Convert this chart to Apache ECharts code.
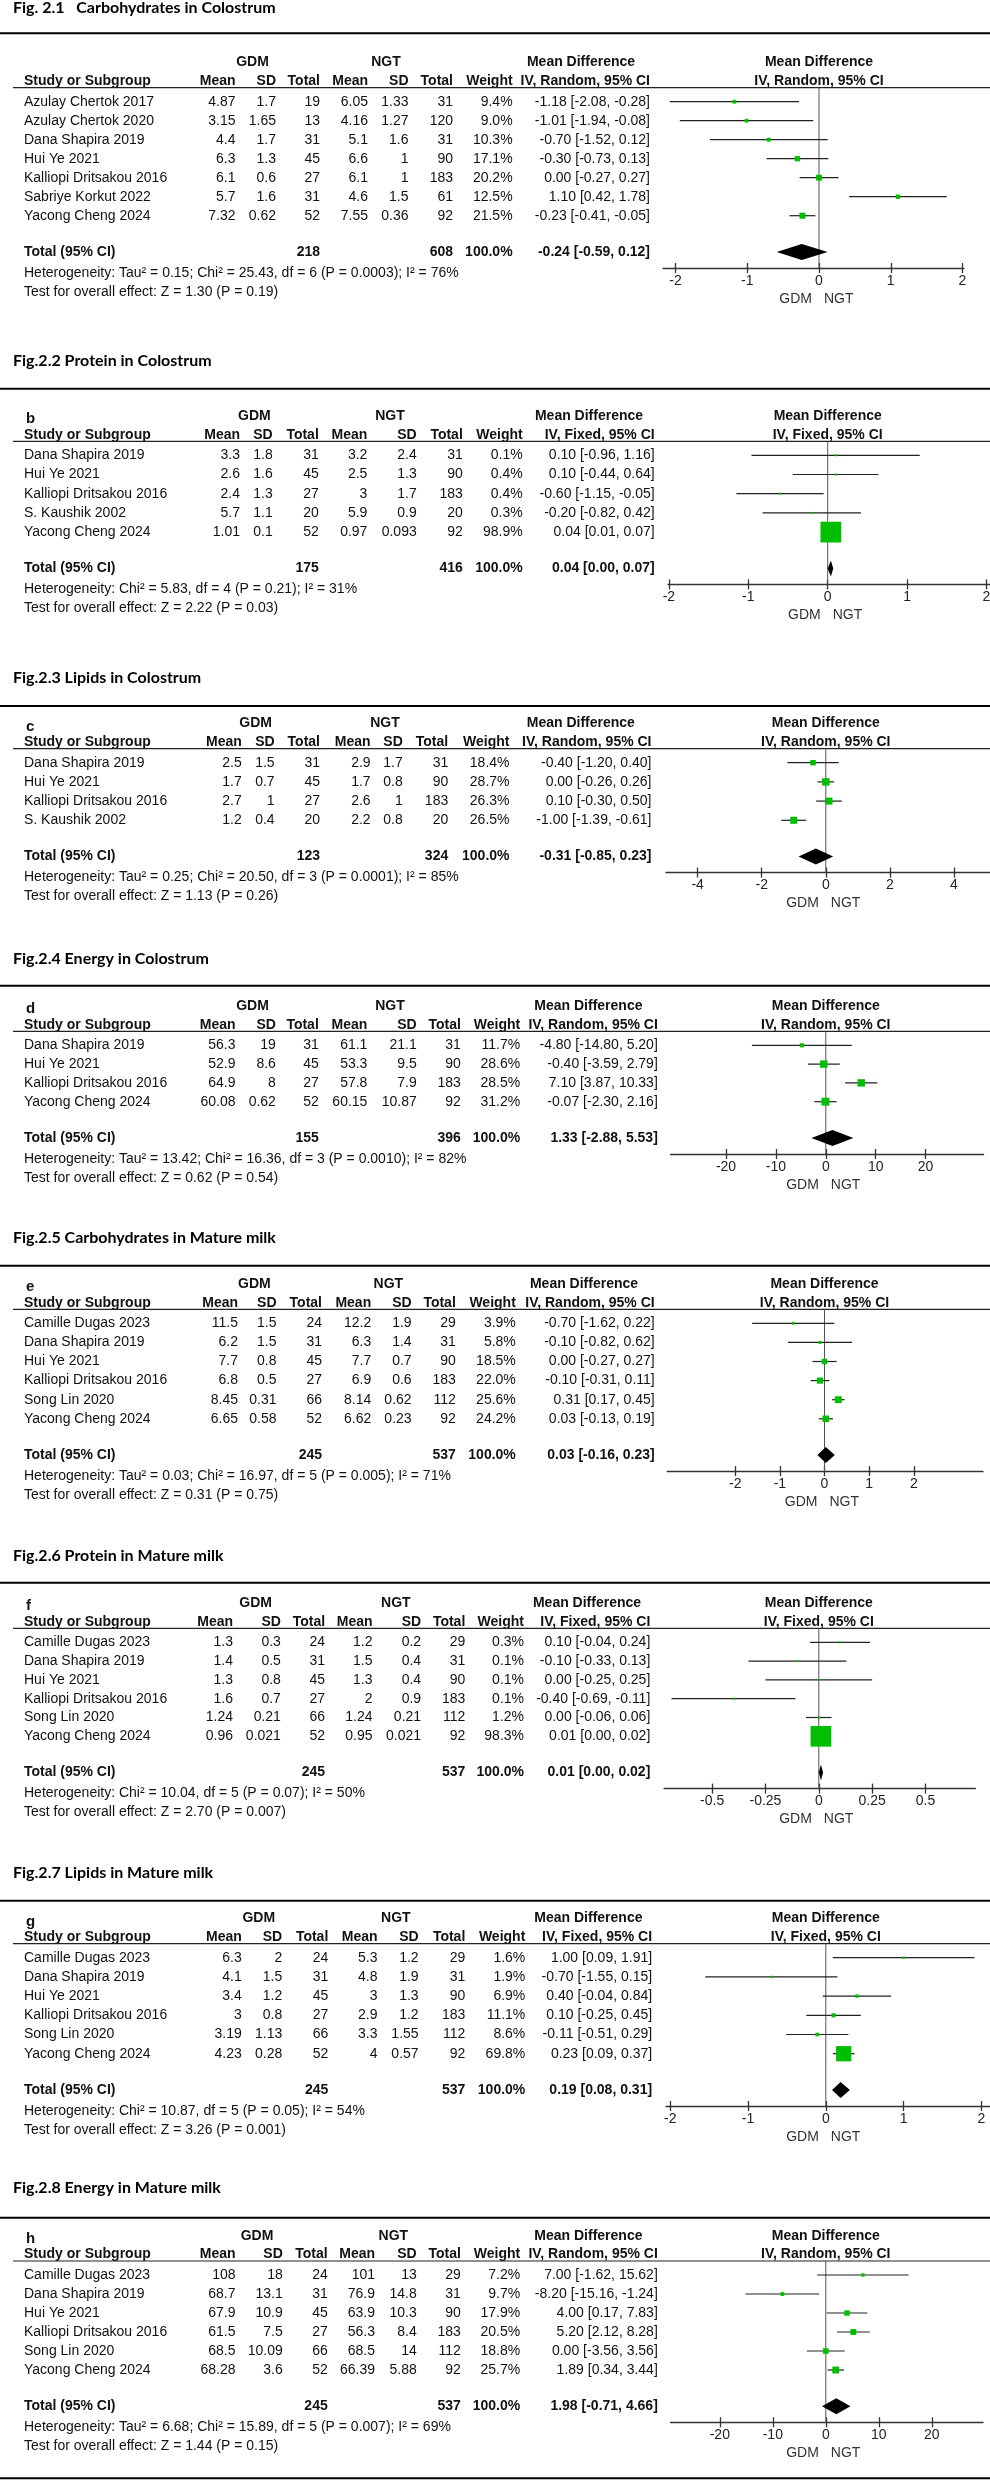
<!DOCTYPE html>
<html><head><meta charset="utf-8">
<script src="https://cdn.jsdelivr.net/npm/echarts@6/dist/echarts.min.js"></script>
<style>html,body{margin:0;padding:0;background:#fff}#c{width:990px;height:2480px}</style>
</head><body><div id="c"></div><script>
// ---------- DATA ----------
const p1Title = "Fig. 2.1\u00a0\u00a0\u00a0Carbohydrates in Colostrum";
const p1Method = "IV, Random, 95% CI";
const p1Study = ["Azulay Chertok 2017","Azulay Chertok 2020","Dana Shapira 2019","Hui Ye 2021","Kalliopi Dritsakou 2016","Sabriye Korkut 2022","Yacong Cheng 2024"];
const p1GDM = [[4.87,1.7,19],[3.15,1.65,13],[4.4,1.7,31],[6.3,1.3,45],[6.1,0.6,27],[5.7,1.6,31],[7.32,0.62,52]];
const p1NGT = [[6.05,1.33,31],[4.16,1.27,120],[5.1,1.6,31],[6.6,1,90],[6.1,1,183],[4.6,1.5,61],[7.55,0.36,92]];
const p1Weight = [9.4,9.0,10.3,17.1,20.2,12.5,21.5];
const p1MD = [[-1.18,-2.08,-0.28],[-1.01,-1.94,-0.08],[-0.70,-1.52,0.12],[-0.30,-0.73,0.13],[0.00,-0.27,0.27],[1.10,0.42,1.78],[-0.23,-0.41,-0.05]];
const p1Total = [218,608,-0.24,-0.59,0.12];
const p1Het = "Heterogeneity: Tau\u00b2 = 0.15; Chi\u00b2 = 25.43, df = 6 (P = 0.0003); I\u00b2 = 76%";
const p1Test = "Test for overall effect: Z = 1.30 (P = 0.19)";
const p1Ticks = [-2,-1,0,1,2];

const p2Title = "Fig.2.2 Protein in Colostrum";
const p2Method = "IV, Fixed, 95% CI";
const p2Study = ["Dana Shapira 2019","Hui Ye 2021","Kalliopi Dritsakou 2016","S. Kaushik 2002","Yacong Cheng 2024"];
const p2GDM = [[3.3,1.8,31],[2.6,1.6,45],[2.4,1.3,27],[5.7,1.1,20],[1.01,0.1,52]];
const p2NGT = [[3.2,2.4,31],[2.5,1.3,90],[3,1.7,183],[5.9,0.9,20],[0.97,0.093,92]];
const p2Weight = [0.1,0.4,0.4,0.3,98.9];
const p2MD = [[0.10,-0.96,1.16],[0.10,-0.44,0.64],[-0.60,-1.15,-0.05],[-0.20,-0.82,0.42],[0.04,0.01,0.07]];
const p2Total = [175,416,0.04,0.00,0.07];
const p2Het = "Heterogeneity: Chi\u00b2 = 5.83, df = 4 (P = 0.21); I\u00b2 = 31%";
const p2Test = "Test for overall effect: Z = 2.22 (P = 0.03)";
const p2Ticks = [-2,-1,0,1,2];

const p3Title = "Fig.2.3 Lipids in Colostrum";
const p3Method = "IV, Random, 95% CI";
const p3Study = ["Dana Shapira 2019","Hui Ye 2021","Kalliopi Dritsakou 2016","S. Kaushik 2002"];
const p3GDM = [[2.5,1.5,31],[1.7,0.7,45],[2.7,1,27],[1.2,0.4,20]];
const p3NGT = [[2.9,1.7,31],[1.7,0.8,90],[2.6,1,183],[2.2,0.8,20]];
const p3Weight = [18.4,28.7,26.3,26.5];
const p3MD = [[-0.40,-1.20,0.40],[0.00,-0.26,0.26],[0.10,-0.30,0.50],[-1.00,-1.39,-0.61]];
const p3Total = [123,324,-0.31,-0.85,0.23];
const p3Het = "Heterogeneity: Tau\u00b2 = 0.25; Chi\u00b2 = 20.50, df = 3 (P = 0.0001); I\u00b2 = 85%";
const p3Test = "Test for overall effect: Z = 1.13 (P = 0.26)";
const p3Ticks = [-4,-2,0,2,4];

const p4Title = "Fig.2.4 Energy in Colostrum";
const p4Method = "IV, Random, 95% CI";
const p4Study = ["Dana Shapira 2019","Hui Ye 2021","Kalliopi Dritsakou 2016","Yacong Cheng 2024"];
const p4GDM = [[56.3,19,31],[52.9,8.6,45],[64.9,8,27],[60.08,0.62,52]];
const p4NGT = [[61.1,21.1,31],[53.3,9.5,90],[57.8,7.9,183],[60.15,10.87,92]];
const p4Weight = [11.7,28.6,28.5,31.2];
const p4MD = [[-4.80,-14.80,5.20],[-0.40,-3.59,2.79],[7.10,3.87,10.33],[-0.07,-2.30,2.16]];
const p4Total = [155,396,1.33,-2.88,5.53];
const p4Het = "Heterogeneity: Tau\u00b2 = 13.42; Chi\u00b2 = 16.36, df = 3 (P = 0.0010); I\u00b2 = 82%";
const p4Test = "Test for overall effect: Z = 0.62 (P = 0.54)";
const p4Ticks = [-20,-10,0,10,20];

const p5Title = "Fig.2.5 Carbohydrates in Mature milk";
const p5Method = "IV, Random, 95% CI";
const p5Study = ["Camille Dugas 2023","Dana Shapira 2019","Hui Ye 2021","Kalliopi Dritsakou 2016","Song Lin 2020","Yacong Cheng 2024"];
const p5GDM = [[11.5,1.5,24],[6.2,1.5,31],[7.7,0.8,45],[6.8,0.5,27],[8.45,0.31,66],[6.65,0.58,52]];
const p5NGT = [[12.2,1.9,29],[6.3,1.4,31],[7.7,0.7,90],[6.9,0.6,183],[8.14,0.62,112],[6.62,0.23,92]];
const p5Weight = [3.9,5.8,18.5,22.0,25.6,24.2];
const p5MD = [[-0.70,-1.62,0.22],[-0.10,-0.82,0.62],[0.00,-0.27,0.27],[-0.10,-0.31,0.11],[0.31,0.17,0.45],[0.03,-0.13,0.19]];
const p5Total = [245,537,0.03,-0.16,0.23];
const p5Het = "Heterogeneity: Tau\u00b2 = 0.03; Chi\u00b2 = 16.97, df = 5 (P = 0.005); I\u00b2 = 71%";
const p5Test = "Test for overall effect: Z = 0.31 (P = 0.75)";
const p5Ticks = [-2,-1,0,1,2];

const p6Title = "Fig.2.6 Protein in Mature milk";
const p6Method = "IV, Fixed, 95% CI";
const p6Study = ["Camille Dugas 2023","Dana Shapira 2019","Hui Ye 2021","Kalliopi Dritsakou 2016","Song Lin 2020","Yacong Cheng 2024"];
const p6GDM = [[1.3,0.3,24],[1.4,0.5,31],[1.3,0.8,45],[1.6,0.7,27],[1.24,0.21,66],[0.96,0.021,52]];
const p6NGT = [[1.2,0.2,29],[1.5,0.4,31],[1.3,0.4,90],[2,0.9,183],[1.24,0.21,112],[0.95,0.021,92]];
const p6Weight = [0.3,0.1,0.1,0.1,1.2,98.3];
const p6MD = [[0.10,-0.04,0.24],[-0.10,-0.33,0.13],[0.00,-0.25,0.25],[-0.40,-0.69,-0.11],[0.00,-0.06,0.06],[0.01,0.00,0.02]];
const p6Total = [245,537,0.01,0.00,0.02];
const p6Het = "Heterogeneity: Chi\u00b2 = 10.04, df = 5 (P = 0.07); I\u00b2 = 50%";
const p6Test = "Test for overall effect: Z = 2.70 (P = 0.007)";
const p6Ticks = [-0.5,-0.25,0,0.25,0.5];

const p7Title = "Fig.2.7 Lipids in Mature milk";
const p7Method = "IV, Fixed, 95% CI";
const p7Study = ["Camille Dugas 2023","Dana Shapira 2019","Hui Ye 2021","Kalliopi Dritsakou 2016","Song Lin 2020","Yacong Cheng 2024"];
const p7GDM = [[6.3,2,24],[4.1,1.5,31],[3.4,1.2,45],[3,0.8,27],[3.19,1.13,66],[4.23,0.28,52]];
const p7NGT = [[5.3,1.2,29],[4.8,1.9,31],[3,1.3,90],[2.9,1.2,183],[3.3,1.55,112],[4,0.57,92]];
const p7Weight = [1.6,1.9,6.9,11.1,8.6,69.8];
const p7MD = [[1.00,0.09,1.91],[-0.70,-1.55,0.15],[0.40,-0.04,0.84],[0.10,-0.25,0.45],[-0.11,-0.51,0.29],[0.23,0.09,0.37]];
const p7Total = [245,537,0.19,0.08,0.31];
const p7Het = "Heterogeneity: Chi\u00b2 = 10.87, df = 5 (P = 0.05); I\u00b2 = 54%";
const p7Test = "Test for overall effect: Z = 3.26 (P = 0.001)";
const p7Ticks = [-2,-1,0,1,2];

const p8Title = "Fig.2.8 Energy in Mature milk";
const p8Method = "IV, Random, 95% CI";
const p8Study = ["Camille Dugas 2023","Dana Shapira 2019","Hui Ye 2021","Kalliopi Dritsakou 2016","Song Lin 2020","Yacong Cheng 2024"];
const p8GDM = [[108,18,24],[68.7,13.1,31],[67.9,10.9,45],[61.5,7.5,27],[68.5,10.09,66],[68.28,3.6,52]];
const p8NGT = [[101,13,29],[76.9,14.8,31],[63.9,10.3,90],[56.3,8.4,183],[68.5,14,112],[66.39,5.88,92]];
const p8Weight = [7.2,9.7,17.9,20.5,18.8,25.7];
const p8MD = [[7.00,-1.62,15.62],[-8.20,-15.16,-1.24],[4.00,0.17,7.83],[5.20,2.12,8.28],[0.00,-3.56,3.56],[1.89,0.34,3.44]];
const p8Total = [245,537,1.98,-0.71,4.66];
const p8Het = "Heterogeneity: Tau\u00b2 = 6.68; Chi\u00b2 = 15.89, df = 5 (P = 0.007); I\u00b2 = 69%";
const p8Test = "Test for overall effect: Z = 1.44 (P = 0.15)";
const p8Ticks = [-20,-10,0,10,20];

const panelLetters = ["","b","c","d","e","f","g","h"];
const headerGroups = ["GDM","NGT","Mean Difference"];
const headerCols = ["Mean","SD","Total","Mean","SD","Total","Weight"];

// ---------- LAYOUT (pixels) ----------
const layout = [
 {titleY:7.5,  thickY:33.3,  row0:101.7, step:19.0, zero:819,   unit:71.75, L:663,   R:964,   cols:[235.5,276,320,368,408.5,453,512.6,650],     hdr:[252.5,386,581]},
 {titleY:360.7,thickY:388.7, row0:455.3, step:19.2, zero:827.7, unit:79.4,  L:668,   R:990,   cols:[240,272.7,318.8,367.4,416.7,462.8,522.7,654.7], hdr:[254.4,390,589]},
 {titleY:678.3,thickY:706,   row0:762.7, step:19.2, zero:825.8, unit:32.04, L:666,   R:990,   cols:[241.8,274.6,320,370.6,402.8,448.2,509.5,651.5], hdr:[255.7,385,580.8]},
 {titleY:959,  thickY:985.7, row0:1045.3,step:18.8, zero:825.8, unit:4.99,  L:670.5, R:983.6, cols:[235.5,275.9,318.8,367.4,416.7,460.9,520.2,657.8], hdr:[252.5,390,588.4]},
 {titleY:1238.3,thickY:1265.7,row0:1323.3,step:19.1,zero:824.5, unit:44.65, L:667.3, R:983,   cols:[238,276.5,322,371.2,411.6,455.8,515.8,654.7], hdr:[254.4,388.3,584]},
 {titleY:1556, thickY:1582.7,row0:1642.3,step:18.8, zero:818.8, unit:213.4, L:664.1, R:975.4, cols:[233,280.9,325.1,372.5,421.1,465.3,524,650.3], hdr:[255.7,395.8,587]},
 {titleY:1873.3,thickY:1900.7,row0:1957.7,step:19.2,zero:825.8, unit:77.8,  L:666,   R:990,   cols:[241.8,282.2,328.3,377.5,418.6,465.3,525.3,652.1], hdr:[258.8,395.8,588.4]},
 {titleY:2188, thickY:2217.7,row0:2275,  step:19.0, zero:825.8, unit:5.3,   L:670.5, R:983,   cols:[235.5,282.8,327.7,375,416.7,460.9,520.2,657.8], hdr:[257,393.3,588.4]}
];
const bottomLineY = 2478.3;

const panels = [
 {title:p1Title,method:p1Method,study:p1Study,gdm:p1GDM,ngt:p1NGT,weight:p1Weight,md:p1MD,total:p1Total,het:p1Het,test:p1Test,ticks:p1Ticks},
 {title:p2Title,method:p2Method,study:p2Study,gdm:p2GDM,ngt:p2NGT,weight:p2Weight,md:p2MD,total:p2Total,het:p2Het,test:p2Test,ticks:p2Ticks},
 {title:p3Title,method:p3Method,study:p3Study,gdm:p3GDM,ngt:p3NGT,weight:p3Weight,md:p3MD,total:p3Total,het:p3Het,test:p3Test,ticks:p3Ticks},
 {title:p4Title,method:p4Method,study:p4Study,gdm:p4GDM,ngt:p4NGT,weight:p4Weight,md:p4MD,total:p4Total,het:p4Het,test:p4Test,ticks:p4Ticks},
 {title:p5Title,method:p5Method,study:p5Study,gdm:p5GDM,ngt:p5NGT,weight:p5Weight,md:p5MD,total:p5Total,het:p5Het,test:p5Test,ticks:p5Ticks},
 {title:p6Title,method:p6Method,study:p6Study,gdm:p6GDM,ngt:p6NGT,weight:p6Weight,md:p6MD,total:p6Total,het:p6Het,test:p6Test,ticks:p6Ticks},
 {title:p7Title,method:p7Method,study:p7Study,gdm:p7GDM,ngt:p7NGT,weight:p7Weight,md:p7MD,total:p7Total,het:p7Het,test:p7Test,ticks:p7Ticks},
 {title:p8Title,method:p8Method,study:p8Study,gdm:p8GDM,ngt:p8NGT,weight:p8Weight,md:p8MD,total:p8Total,het:p8Het,test:p8Test,ticks:p8Ticks}
];

// ---------- BUILD ----------
const FF = "'Liberation Sans', Arial, Helvetica, sans-serif";
const TF = "Lato, 'Open Sans', sans-serif";
const fnt = (w, s) => w + ' ' + s + 'px ' + FF;
const TXT = '#111';
const GREEN = '#00BF00';
const ciText = (m, lo, hi) => m.toFixed(2) + ' [' + lo.toFixed(2) + ', ' + hi.toFixed(2) + ']';

const grids = [], xAxes = [], yAxes = [], series = [], gfx = [];
const T = (x, y, text, font, align, fill) => ({type:'text', x:x, y:y, silent:true,
  style:{text:text, font:font, fill:fill || TXT, align:align || 'left', verticalAlign:'middle'}});
const Ln = (x1, y1, x2, y2, w, c) => ({type:'line', silent:true, shape:{x1:x1,y1:y1,x2:x2,y2:y2}, style:{stroke:c||'#000', lineWidth:w}});

panels.forEach((P, p) => {
  const Lo = layout[p];
  const n = P.study.length;
  const last = Lo.row0 + (n - 1) * Lo.step;
  const totalY = last + 36.3, axisY = totalY + 16, ul = Lo.row0 - 14;
  const vmin = (ul - Lo.row0) / Lo.step, vmax = (axisY - Lo.row0) / Lo.step, Tv = (totalY - Lo.row0) / Lo.step;
  const xmin = (Lo.L - Lo.zero) / Lo.unit, xmax = (Lo.R - Lo.zero) / Lo.unit;

  grids.push({left:Lo.L, top:ul, width:Lo.R - Lo.L, height:axisY - ul, containLabel:false, outerBoundsMode:'none'});
  xAxes.push({type:'value', gridIndex:p, position:'bottom', min:xmin, max:xmax, splitLine:{show:false},
    axisLine:{show:true, onZero:false, lineStyle:{color:'#333', width:1.3}},
    axisTick:{show:true, customValues:P.ticks, length:5, lineStyle:{color:'#333', width:1.3}},
    axisLabel:{show:true, customValues:P.ticks, margin:6, fontSize:14, fontFamily:FF, color:'#222'}});
  xAxes.push({type:'value', gridIndex:p, position:'bottom', offset:0, min:xmin, max:xmax, splitLine:{show:false},
    axisLine:{show:false, onZero:false},
    axisTick:{show:true, inside:true, customValues:P.ticks, length:5, lineStyle:{color:'#333', width:1.3}},
    axisLabel:{show:false}});
  yAxes.push({type:'value', gridIndex:p, inverse:true, min:vmin, max:vmax, show:false});

  // zero line
  series.push({type:'custom', xAxisIndex:2*p, yAxisIndex:p, silent:true, z:1, data:[[0, vmin]],
    renderItem:(params, api) => {
      const a = api.coord([0, vmin]), b = api.coord([0, vmax]);
      return {type:'line', shape:{x1:a[0], y1:a[1], x2:b[0], y2:b[1]}, style:{stroke:'#555', lineWidth:1}};
    }});
  // study CIs and weight squares
  series.push({type:'custom', xAxisIndex:2*p, yAxisIndex:p, silent:true, z:2,
    data:P.md.map((m, i) => [m[0], m[1], m[2], P.weight[i], i]), encode:{x:[0,1,2], y:4},
    renderItem:(params, api) => {
      const r = api.value(4);
      const c = api.coord([api.value(0), r]), a = api.coord([api.value(1), r]), b = api.coord([api.value(2), r]);
      const s = 2 + 0.19 * api.value(3);
      return {type:'group', children:[
        {type:'line', shape:{x1:a[0], y1:c[1], x2:b[0], y2:c[1]}, style:{stroke:'#222', lineWidth:1.2}},
        {type:'rect', shape:{x:c[0]-s/2, y:c[1]-s/2, width:s, height:s}, style:{fill:GREEN}}
      ]};
    }});
  // pooled diamond
  series.push({type:'custom', xAxisIndex:2*p, yAxisIndex:p, silent:true, z:3,
    data:[[P.total[2], P.total[3], P.total[4], Tv]], encode:{x:[0,1,2], y:3},
    renderItem:(params, api) => {
      const r = api.value(3), h = 8;
      const c = api.coord([api.value(0), r]), a = api.coord([api.value(1), r]), b = api.coord([api.value(2), r]);
      return {type:'polygon', shape:{points:[[a[0], c[1]], [c[0], c[1]-h], [b[0], c[1]], [c[0], c[1]+h]]}, style:{fill:'#000'}};
    }});
  // table rows
  const tableData = P.study.map((s, i) => [xmin, i]).concat([[xmin, Tv]]);
  series.push({type:'custom', xAxisIndex:2*p, yAxisIndex:p, silent:true, z:4, clip:false,
    data:tableData, encode:{x:0, y:1},
    renderItem:(params, api) => {
      const i = params.dataIndex;
      const y = api.coord([xmin, api.value(1)])[1];
      const C = Lo.cols;
      const mk = (x, t, al, bold) => ({type:'text', style:{text:String(t), x:x, y:y, font:fnt(bold ? 'bold' : 'normal', 14), fill:TXT, align:al, verticalAlign:'middle'}});
      if (i < n) {
        const g = P.gdm[i], k = P.ngt[i], m = P.md[i];
        return {type:'group', children:[
          mk(24, P.study[i], 'left'),
          mk(C[0], g[0], 'right'), mk(C[1], g[1], 'right'), mk(C[2], g[2], 'right'),
          mk(C[3], k[0], 'right'), mk(C[4], k[1], 'right'), mk(C[5], k[2], 'right'),
          mk(C[6], P.weight[i].toFixed(1) + '%', 'right'),
          mk(C[7], ciText(m[0], m[1], m[2]), 'right')
        ]};
      }
      return {type:'group', children:[
        mk(24, 'Total (95% CI)', 'left', true),
        mk(C[2], P.total[0], 'right', true),
        mk(C[5], P.total[1], 'right', true),
        mk(C[6], '100.0%', 'right', true),
        mk(C[7], ciText(P.total[2], P.total[3], P.total[4]), 'right', true)
      ]};
    }});

  // static text / rules
  const h1 = Lo.row0 - 39.3, h2 = Lo.row0 - 20.5;
  gfx.push(T(13, Lo.titleY, P.title, 'bold 16px ' + TF, 'left', '#000'));
  gfx.push(Ln(0, Lo.thickY, 990, Lo.thickY, 2, '#000'));
  if (panelLetters[p]) gfx.push(T(26, h1 + 3, panelLetters[p], fnt('bold', 15), 'left'));
  gfx.push(T(Lo.hdr[0], h1, headerGroups[0], fnt('bold', 14), 'center'));
  gfx.push(T(Lo.hdr[1], h1, headerGroups[1], fnt('bold', 14), 'center'));
  gfx.push(T(Lo.hdr[2], h1, headerGroups[2], fnt('bold', 14), 'center'));
  gfx.push(T(Lo.zero, h1, headerGroups[2], fnt('bold', 14), 'center'));
  gfx.push(T(24, h2, 'Study or Subgroup', fnt('bold', 14), 'left'));
  headerCols.forEach((h, j) => gfx.push(T(Lo.cols[j], h2, h, fnt('bold', 14), 'right')));
  gfx.push(T(Lo.cols[7], h2, P.method, fnt('bold', 14), 'right'));
  gfx.push(T(Lo.zero, h2, P.method, fnt('bold', 14), 'center'));
  gfx.push(Ln(13, ul, 990, ul, 1.2, '#222'));
  gfx.push(T(24, axisY + 5, P.het, fnt('normal', 14), 'left'));
  gfx.push(T(24, axisY + 23.7, P.test, fnt('normal', 14), 'left'));
  gfx.push(T(Lo.zero - 7, axisY + 31, 'GDM', fnt('normal', 14), 'right', '#333'));
  gfx.push(T(Lo.zero + 5, axisY + 31, 'NGT', fnt('normal', 14), 'left', '#333'));
});
gfx.push(Ln(0, bottomLineY, 990, bottomLineY, 2, '#000'));

const chart = echarts.init(document.getElementById('c'), null, {renderer:'canvas'});
chart.setOption({
  animation:false,
  backgroundColor:'#fff',
  grid:grids, xAxis:xAxes, yAxis:yAxes, series:series,
  graphic:{elements:gfx}
});
</script></body></html>
